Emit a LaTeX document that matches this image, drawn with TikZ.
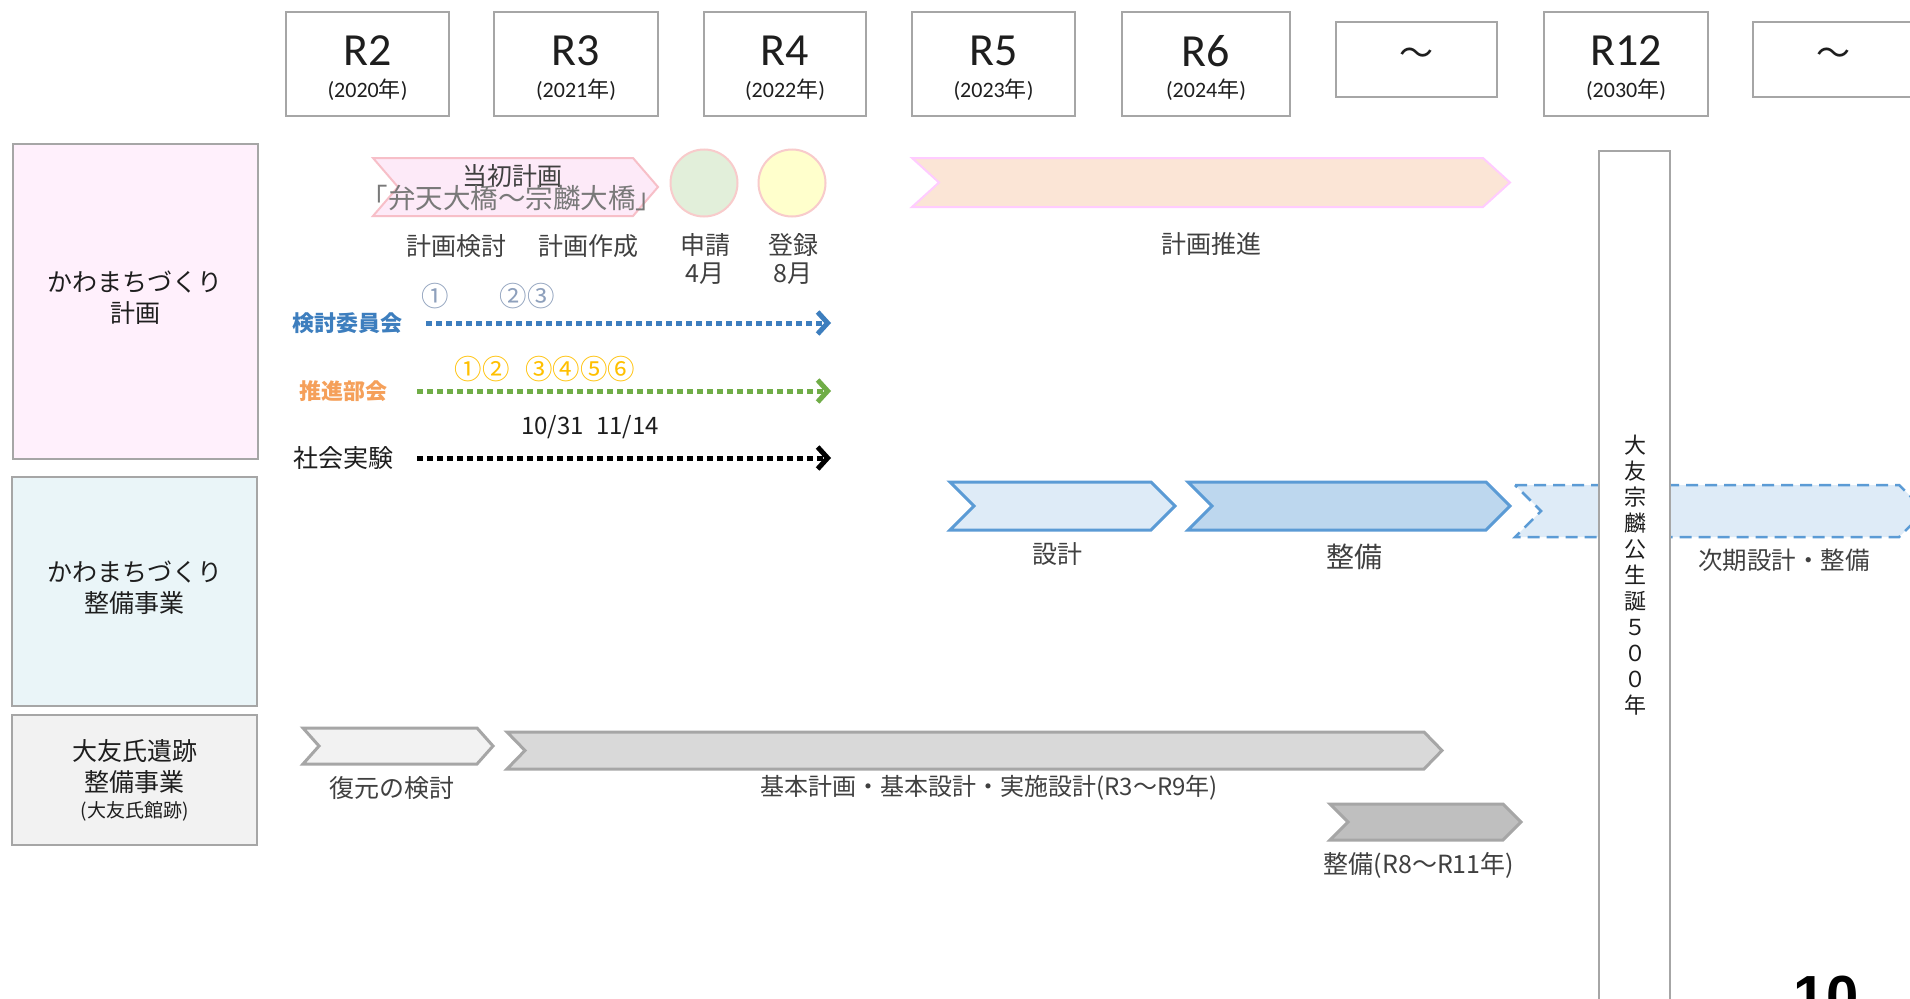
\documentclass[tikz,border=0pt]{standalone}
\usepackage{fontspec}
\setmainfont{Noto Sans CJK JP}
\newfontfamily\carl{Carlito}
\newfontfamily\arialf{Liberation Sans}
\usetikzlibrary{arrows.meta}
\definecolor{boxgray}{HTML}{A6A6A6}
\definecolor{txtgray}{HTML}{404040}
\definecolor{pinkbox}{HTML}{FFF0FC}
\definecolor{cyanbox}{HTML}{EAF5F8}
\definecolor{graybox}{HTML}{F2F2F2}
\definecolor{initfill}{HTML}{FDEAF8}
\definecolor{initdraw}{HTML}{F7BFC8}
\definecolor{greenc}{HTML}{E2EFDA}
\definecolor{yellowc}{HTML}{FFFFCC}
\definecolor{circdraw}{HTML}{F8CBCB}
\definecolor{promfill}{HTML}{FBE5D6}
\definecolor{promdraw}{HTML}{FFCCFF}
\definecolor{bluel}{HTML}{DEEBF7}
\definecolor{bluem}{HTML}{BDD7EE}
\definecolor{bluedraw}{HTML}{5B9BD5}
\definecolor{grayA}{HTML}{F2F2F2}
\definecolor{grayB}{HTML}{D9D9D9}
\definecolor{grayC}{HTML}{BFBFBF}
\definecolor{kblue}{HTML}{3D7EBE}
\definecolor{numgray}{HTML}{8EA0BC}
\definecolor{numorange}{HTML}{FFC000}
\definecolor{orangetxt}{HTML}{F5A05A}
\definecolor{arrgreen}{HTML}{70AD47}
\definecolor{nearblack}{HTML}{1E1E1E}
\newcommand\chevshape[6]{% style, x1, y1, x2, y2, depth
  \path[#1] (#2,#3) -- ({#4-#6},#3) -- (#4,{(#3+#5)/2}) -- ({#4-#6},#5) -- (#2,#5) -- ({#2+#6},{(#3+#5)/2}) -- cycle;}
\newcommand\yearbox[5]{%
  \node[yearbox, minimum width=#3pt, minimum height=104pt] (#1) at (#2,64) {};
  \node[plain, font=\carl\fontsize{46}{46}\selectfont] (#1r) at (#2,51) {#4};
  \node[plain, font=\fontsize{22}{22}\selectfont] (#1y) at (#2,90) {{\carl(#5}年{\carl)}};}
\begin{document}
\begin{tikzpicture}[x=1pt,y=-1pt,
  plain/.style={inner sep=0pt, outer sep=0pt, text=nearblack},
  yearbox/.style={draw=boxgray, line width=2pt, fill=white, inner sep=0pt},
  catbox/.style={draw=boxgray, line width=2pt, inner sep=0pt, minimum width=245pt},
  cattext/.style={plain, text=nearblack, font=\fontsize{25}{31}\selectfont, align=center},
  lbl/.style={plain, text=txtgray, font=\fontsize{25}{30}\selectfont},
  numtxt/.style={plain, font=\fontsize{27.5}{27.5}\selectfont},
  dotarrow/.style={line width=5pt, dash pattern=on 6pt off 4pt,
     -{Straight Barb[length=10pt,width=22pt,line width=5pt]}},
  circ/.style={circle, draw=circdraw, line width=2pt, minimum size=67pt, inner sep=0pt}]
\path[use as bounding box] (0,0) rectangle (1910,998);
\clip (0,0) rectangle (1910,998);
\fill[white] (0,0) rectangle (1910,998);

% ---- year header
\yearbox{r2}{367.5}{163}{R2}{2020}
\yearbox{r3}{576}{164}{R3}{2021}
\yearbox{r4}{785}{162}{R4}{2022}
\yearbox{r5}{993.5}{163}{R5}{2023}
\yearbox{r6}{1206}{168}{R6}{2024}
\node[yearbox, minimum width=161pt, minimum height=75pt] (t1) at (1416.5,59.5) {};
\node[plain, font=\fontsize{34}{34}\selectfont] (t1t) at (1416.5,57) {～};
\yearbox{r12}{1626}{164}{R12}{2030}
\node[yearbox, minimum width=161pt, minimum height=75pt] (t2) at (1833.5,59.5) {};
\node[plain, font=\fontsize{34}{34}\selectfont] (t2t) at (1833.5,57) {～};

% ---- category boxes
\node[catbox, fill=pinkbox, minimum height=315pt] (c1) at (135,301.5) {};
\node[cattext] (c1t) at (135,298) {かわまちづくり\\計画};
\node[catbox, fill=cyanbox, minimum height=229pt] (c2) at (134.5,591.5) {};
\node[cattext] (c2t) at (134.5,588) {かわまちづくり\\整備事業};
\node[catbox, fill=graybox, minimum height=130pt] (c3) at (134.5,780) {};
\node[cattext] (c3a) at (134.5,751) {大友氏遺跡};
\node[cattext] (c3b) at (134.5,782) {整備事業};
\node[cattext, font=\fontsize{19}{19}\selectfont] (c3c) at (134.5,811) {(大友氏館跡)};

% ---- row 1 : plan
\chevshape{draw=initdraw, fill=initfill, line width=2pt}{373}{158}{658}{216}{25}
\node[plain, text=txtgray, font=\fontsize{25}{25}\selectfont] (init1) at (512,176) {当初計画};
\node[plain, text=gray!95!black, font=\fontsize{27.5}{27.5}\selectfont] (init2) at (512,198) {「弁天大橋～宗麟大橋」};
\node[circ, fill=greenc] (apply) at (704,183) {};
\node[circ, fill=yellowc] (regist) at (792,183) {};
\chevshape{draw=promdraw, fill=promfill, line width=2pt}{912}{158}{1510}{207}{27}

\node[lbl] (kentou) at (456,246) {計画検討};
\node[lbl] (sakusei) at (588,246) {計画作成};
\node[lbl] (shinsei) at (705,245) {申請};
\node[lbl] (apr) at (705,274) {4月};
\node[lbl] (touroku) at (793,245) {登録};
\node[lbl] (aug) at (793,274) {8月};
\node[lbl] (suishin) at (1211,244) {計画推進};

\node[numtxt, text=numgray] (kn1) at (435,296) {①};
\node[numtxt, text=numgray] (kn2) at (527,296) {②③};
\node[plain, text=kblue, font=\bfseries\fontsize{22}{22}\selectfont] (kiin) at (347,323) {検討委員会};
\coordinate (kiinA) at (426,323);
\coordinate (kiinB) at (831,323);
\draw[dotarrow, kblue] (kiinA) -- (kiinB);

\node[numtxt, text=numorange] (sn1) at (482,369) {①②};
\node[numtxt, text=numorange] (sn2) at (580,369) {③④⑤⑥};
\node[plain, text=orangetxt, font=\bfseries\fontsize{22}{22}\selectfont] (bukai) at (343,391) {推進部会};
\coordinate (bukaiA) at (417,391);
\coordinate (bukaiB) at (831,391);
\draw[dotarrow, arrgreen] (bukaiA) -- (bukaiB);

\node[plain, font=\fontsize{24}{24}\selectfont] (dates) at (590,427) {10/31\hspace{12pt}11/14};
\node[plain, font=\fontsize{25}{25}\selectfont] (jikken) at (343,458) {社会実験};
\coordinate (jikkenA) at (417,458);
\coordinate (jikkenB) at (831,458);
\draw[dotarrow, black] (jikkenA) -- (jikkenB);

% ---- row 2 : works
\chevshape{draw=bluedraw, fill=bluel, line width=3pt}{950}{482}{1175}{530}{24}
\chevshape{draw=bluedraw, fill=bluem, line width=3pt}{1188}{482}{1510}{530}{24}
\chevshape{draw=bluedraw, fill=bluel, line width=2.5pt, dash pattern=on 12pt off 7pt}{1515}{485}{1925}{537}{26}
\node[lbl] (sekkei) at (1057,554) {設計};
\node[lbl, font=\fontsize{28}{28}\selectfont] (seibi) at (1354,557) {整備};
\node[lbl, font=\fontsize{24.5}{24.5}\selectfont] (jiki) at (1784,560) {次期設計・整備};

% ---- row 3 : Otomo
\chevshape{draw=boxgray, fill=grayA, line width=3pt}{303}{728}{493}{764}{16}
\chevshape{draw=boxgray, fill=grayB, line width=3pt}{507}{732}{1442}{769}{18}
\chevshape{draw=boxgray, fill=grayC, line width=3pt}{1330}{804}{1521}{840}{18}
\node[lbl] (fukugen) at (392,788) {復元の検討};
\node[lbl, font=\fontsize{24}{24}\selectfont] (kihon) at (989,788) {基本計画・基本設計・実施設計(R3～R9年)};
\node[lbl] (seibi2) at (1419,865) {整備(R8～R11年)};

% ---- 500th anniversary bar
\node[draw=boxgray, line width=2pt, fill=white, minimum width=71pt, minimum height=870pt, anchor=north, inner sep=0pt] (anniv) at (1634.5,150) {};
\node[plain, font=\fontsize{22}{26}\selectfont, align=center] (annivt) at (1635,575)
  {大\\友\\宗\\麟\\公\\生\\誕\\５\\０\\０\\年};

% ---- page number
\node[plain, anchor=base, text=black, font=\arialf\bfseries\fontsize{58}{58}\selectfont] (pageno) at (1826,1016) {10};
\end{tikzpicture}
\end{document}
